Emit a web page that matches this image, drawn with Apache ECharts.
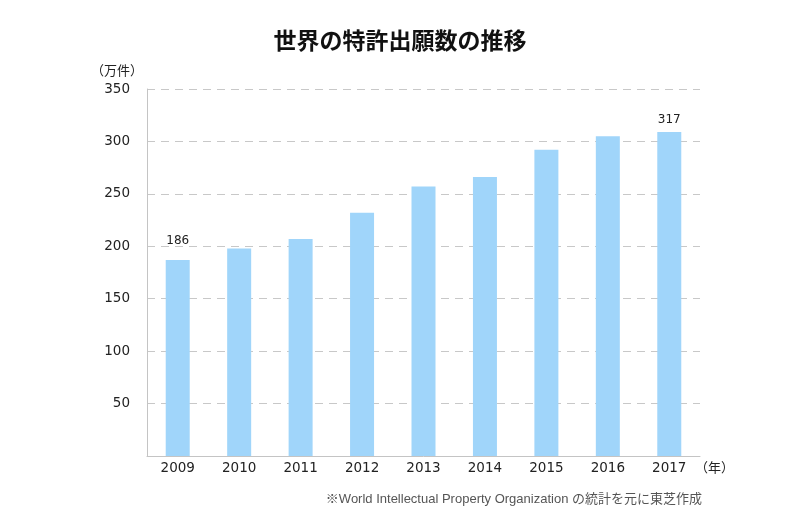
<!DOCTYPE html>
<html>
<head>
<meta charset="utf-8">
<script src="https://cdn.jsdelivr.net/npm/echarts@6/dist/echarts.min.js"></script>
<style>html,body{margin:0;padding:0;background:#fff}#c{width:800px;height:528px}</style>
</head>
<body>
<div id="c"></div>
<script>
const years = ['2009','2010','2011','2012','2013','2014','2015','2016','2017'];
const applications = [187, 198, 207, 232, 257, 266, 292, 305, 309];
const valueLabels = ['186', '', '', '', '', '', '', '', '317'];
const yTicks = [0, 50, 100, 150, 200, 250, 300, 350];

const FONT = '"Noto Sans CJK JP", "Noto Sans", sans-serif';
const NUMFONT = '"DejaVu Sans", "Noto Sans CJK JP", sans-serif';
const NOTEFONT = '"Liberation Sans", "Noto Sans CJK JP", sans-serif';
const chart = echarts.init(document.getElementById('c'), null, {renderer: 'canvas'});
const labelDistances = [13, 5, 5, 5, 5, 5, 5, 5, 6];

chart.setOption({
  animation: false,
  backgroundColor: '#fff',
  textStyle: {fontFamily: FONT},
  title: {
    text: '世界の特許出願数の推移',
    left: 'center',
    top: 24,
    textStyle: {fontFamily: FONT, fontSize: 23, fontWeight: 'bold', color: '#111'}
  },
  grid: {left: 147, right: 100, top: 89, bottom: 72, containLabel: false},
  xAxis: {
    type: 'category',
    data: years,
    axisLine: {lineStyle: {color: '#c4c4c4', width: 1}},
    axisTick: {show: false},
    axisLabel: {color: '#222', fontSize: 13.5, margin: 6, fontFamily: NUMFONT}
  },
  yAxis: {
    type: 'value',
    min: yTicks[0],
    max: yTicks[yTicks.length - 1],
    interval: 50,
    axisLine: {show: true, lineStyle: {color: '#c4c4c4', width: 1}},
    axisTick: {show: false},
    axisLabel: {
      color: '#222', fontSize: 13.5, margin: 17, fontFamily: NUMFONT,
      formatter: v => (v === 0 ? '' : String(v))
    },
    splitLine: {show: true, lineStyle: {color: '#c8c8c8', type: [8, 6], width: 1}}
  },
  series: [{
    type: 'bar',
    barWidth: 24,
    itemStyle: {color: '#a0d5fa'},
    data: applications.map((v, i) => ({
      value: v,
      label: {
        show: valueLabels[i] !== '',
        position: 'top',
        distance: labelDistances[i],
        formatter: valueLabels[i],
        color: '#222',
        fontSize: 12,
        fontFamily: NUMFONT
      }
    }))
  }],
  graphic: [
    {type: 'text', left: 91, top: 64,
     style: {text: '（万件）', fill: '#222', font: '13px ' + FONT}},
    {type: 'text', left: 695, top: 461,
     style: {text: '（年）', fill: '#222', font: '13px ' + FONT}},
    {type: 'text', right: 98, top: 493,
     style: {text: '※World Intellectual Property Organization の統計を元に東芝作成', fill: '#555', font: '13px ' + NOTEFONT}}
  ]
});
</script>
</body>
</html>
